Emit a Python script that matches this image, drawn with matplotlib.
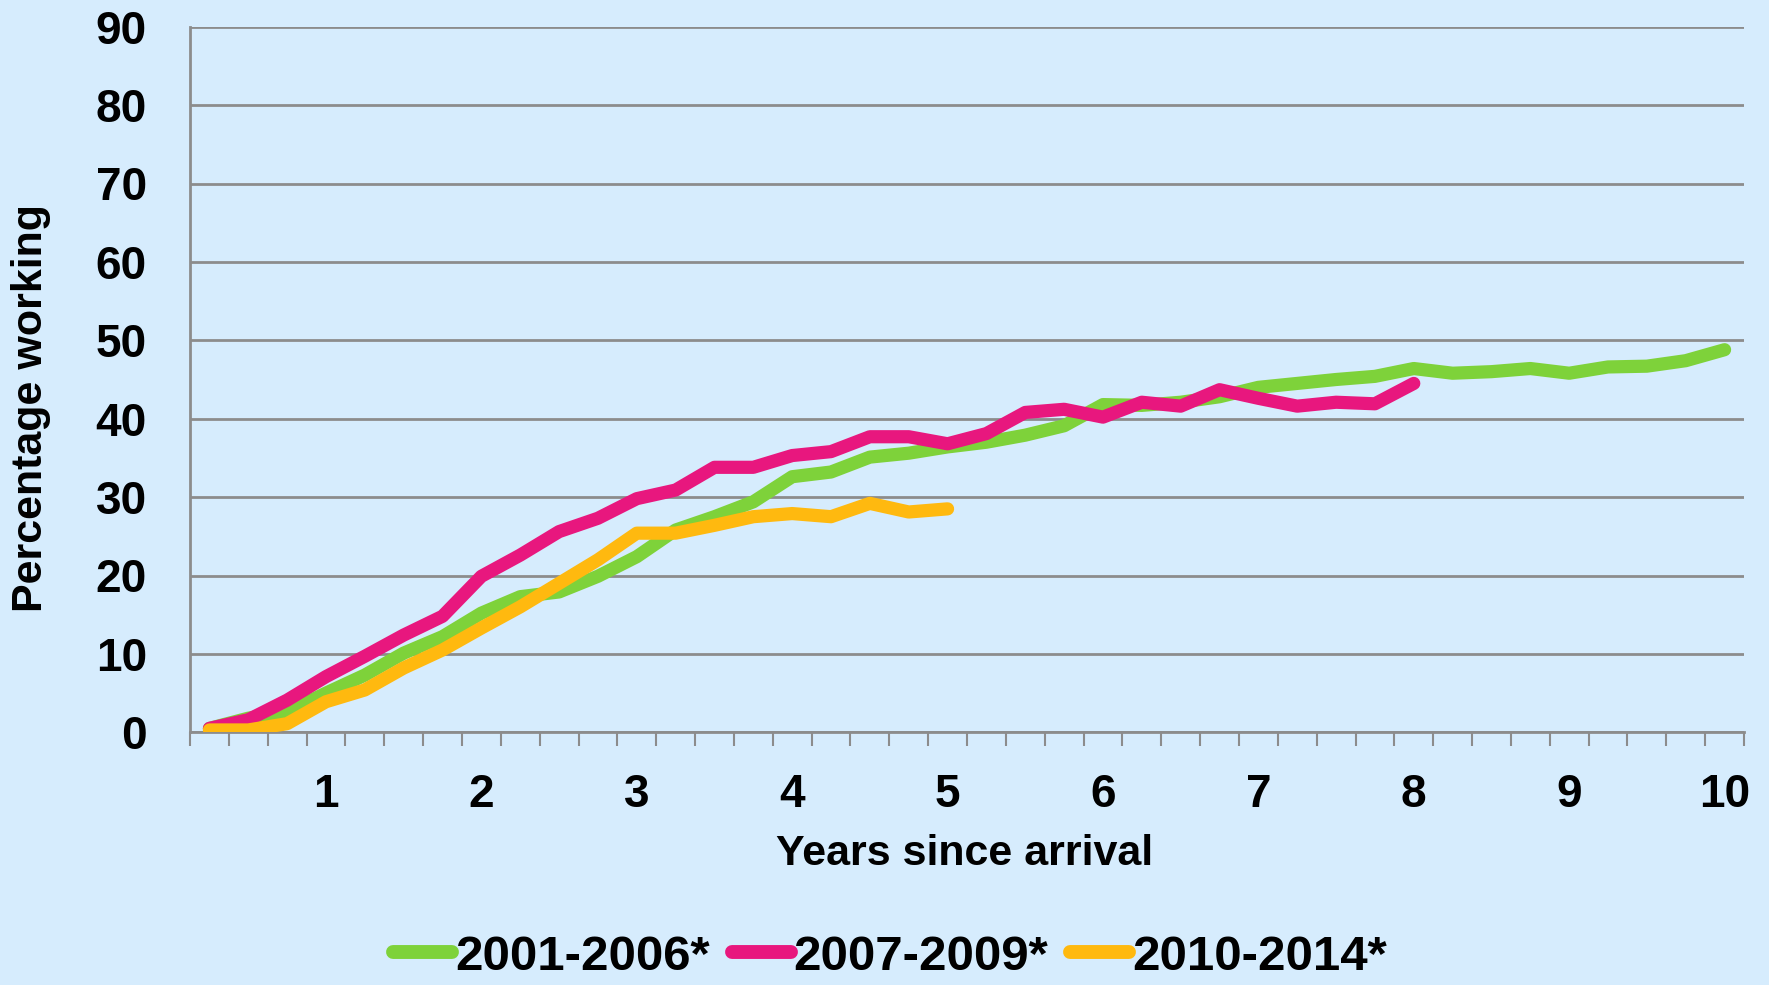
import numpy as np
import matplotlib.pyplot as plt

# share working by quarter since arrival (quarters 1..40)
g_2001 = [0.5, 1.8, 2.6, 5.0, 7.3, 10.1, 12.2, 15.2, 17.3, 17.9,
          19.9, 22.4, 25.8, 27.5, 29.4, 32.6, 33.2, 35.1, 35.6, 36.4,
          37.0, 37.9, 39.1, 41.8, 41.7, 42.1, 42.8, 44.0, 44.5, 45.0,
          45.4, 46.4, 45.8, 46.0, 46.4, 45.8, 46.6, 46.7, 47.4, 48.8]
g_2007 = [0.5, 1.6, 4.1, 7.1, 9.7, 12.4, 14.8, 19.9, 22.6, 25.6,
          27.3, 29.8, 30.9, 33.8, 33.8, 35.3, 35.8, 37.7, 37.7, 36.8,
          38.1, 40.8, 41.2, 40.2, 42.1, 41.6, 43.7, 42.6, 41.6, 42.1,
          41.9, 44.5]
g_2010 = [0.3, 0.3, 1.1, 3.9, 5.4, 8.2, 10.5, 13.3, 16.0, 19.0,
          22.0, 25.4, 25.4, 26.4, 27.5, 27.9, 27.5, 29.2, 28.1, 28.5]
labels = ['2001-2006*', '2007-2009*', '2010-2014*']
year_labels = [str(y) for y in range(1, 11)]

bg = '#D6ECFD'
colors = ['#7ED23A', '#E8177E', '#FFB90F']
font = 'Liberation Sans'

fig = plt.figure(figsize=(17.69, 9.85), dpi=100, facecolor=bg)
ax = fig.add_axes([190/1769, 1-732.3/985, (1744-190)/1769, (732.3-26.7)/985])
ax.set_facecolor(bg)

for vals, c, lab in zip([g_2001, g_2007, g_2010], colors, labels):
    x = np.arange(len(vals))
    ax.plot(x, vals, color=c, lw=9.5, solid_capstyle='round',
            solid_joinstyle='round', label=lab, zorder=3)

ax.set_xlim(-0.5, 39.5)
ax.set_ylim(0, 90)
ax.set_yticks(range(0, 91, 10))
ax.yaxis.grid(True, color='#8C8C8C', lw=2)
ax.set_axisbelow(True)

# year labels sit on every 4th quarter, tick marks on category boundaries
ax.set_xticks(np.arange(3, 40, 4))
ax.set_xticklabels(year_labels)
ax.set_xticks(np.arange(-0.5, 40, 1), minor=True)
ax.tick_params(axis='x', which='major', length=0, pad=29)
ax.tick_params(axis='x', which='minor', length=10, width=1.5, color='#8C8C8C')
ax.tick_params(axis='y', length=0, pad=31)
for t in ax.get_xticklabels() + ax.get_yticklabels():
    t.set_fontfamily(font)
    t.set_fontsize(33)
    t.set_fontweight('bold')

for s in ['top', 'right']:
    ax.spines[s].set_visible(False)
for s in ['left', 'bottom']:
    ax.spines[s].set_color('#8C8C8C')
    ax.spines[s].set_linewidth(2)

fig.text(31/1769, 1-408/985, 'Percentage working', rotation=90, ha='center',
         va='center', fontsize=31, fontweight='bold', family=font)
fig.text(965/1769, 1-854/985, 'Years since arrival', ha='center', va='center',
         fontsize=31, fontweight='bold', family=font)

leg = fig.legend(loc='center', bbox_to_anchor=(890/1769, 1-957/985), ncol=3,
                 frameon=False, handlelength=1.2, handletextpad=0.05,
                 columnspacing=0.45, borderpad=0.1,
                 prop={'family': font, 'size': 35.5, 'weight': 'bold'})
for h in leg.get_lines():
    h.set_linewidth(10)
    h.set_solid_capstyle('round')

fig.savefig('out.png', dpi=100, facecolor=bg)
